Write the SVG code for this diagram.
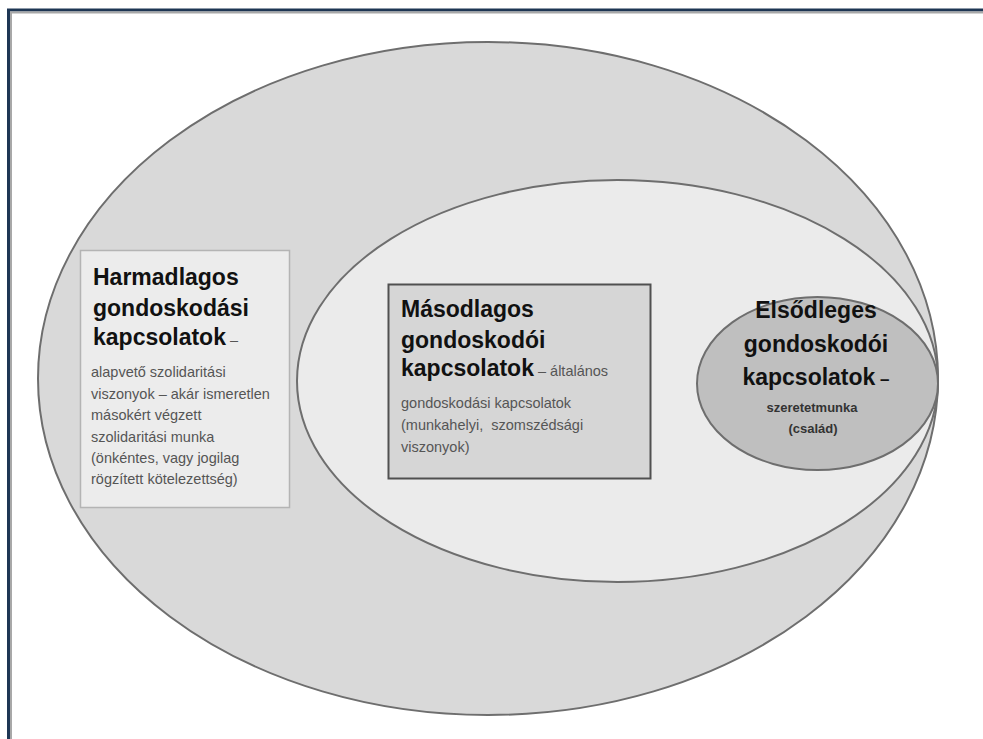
<svg xmlns="http://www.w3.org/2000/svg" width="983" height="739" viewBox="0 0 983 739">
<style>
.h{font-family:"Liberation Sans",Arial,sans-serif;font-weight:bold;font-size:23px;fill:#111}
.s{font-family:"Liberation Sans",Arial,sans-serif;font-size:14.5px;fill:#555}
.sb{font-family:"Liberation Sans",Arial,sans-serif;font-weight:bold;font-size:13px;fill:#333}
.ring{stroke:#6e6e6e;stroke-width:2}
</style>
<rect x="0" y="0" width="983" height="739" fill="#fff"/>
<g id="frame">
<path d="M8.5 739 V10 H983" fill="none" stroke="#1e3654" stroke-width="3"/>
<path d="M11 739 V12.5 H983" fill="none" stroke="#a8a8a8" stroke-width="2"/>
</g>
<g id="tertiary">
<ellipse class="ring" cx="488" cy="378.5" rx="450" ry="336.5" fill="#d9d9d9"/>
</g>
<g id="secondary">
<ellipse class="ring" cx="617.5" cy="381" rx="320.5" ry="201" fill="#ebebeb"/>
</g>
<g id="primary">
<ellipse class="ring" cx="817.5" cy="383.5" rx="120.5" ry="86.5" fill="#bfbfbf"/>
<text class="h" x="816" y="318" text-anchor="middle">Elsődleges</text>
<text class="h" x="816" y="352" text-anchor="middle">gondoskodói</text>
<text class="h" x="816" y="385" text-anchor="middle">kapcsolatok<tspan font-size="17"> –</tspan></text>
<text class="sb" x="812" y="412" text-anchor="middle">szeretetmunka</text>
<text class="sb" x="813" y="433" text-anchor="middle">(család)</text>
</g>
<g id="tertiary-box">
<rect x="80.5" y="250.5" width="209" height="257" fill="#ececec" stroke="#b4b4b4" stroke-width="1.5"/>
<text class="h" x="93" y="285">Harmadlagos</text>
<text class="h" x="93" y="316">gondoskodási</text>
<text class="h" x="93" y="345">kapcsolatok<tspan class="s" font-weight="normal" font-size="15"> –</tspan></text>
<text class="s" x="91" y="377">alapvető szolidaritási</text>
<text class="s" x="91" y="399">viszonyok – akár ismeretlen</text>
<text class="s" x="91" y="420">másokért végzett</text>
<text class="s" x="91" y="442">szolidaritási munka</text>
<text class="s" x="91" y="463">(önkéntes, vagy jogilag</text>
<text class="s" x="91" y="484">rögzített kötelezettség)</text>
</g>
<g id="secondary-box">
<rect x="388.5" y="284.5" width="262" height="194" fill="#d6d6d6" stroke="#505050" stroke-width="2"/>
<text class="h" x="401" y="317">Másodlagos</text>
<text class="h" x="401" y="348">gondoskodói</text>
<text class="h" x="401" y="376">kapcsolatok<tspan class="s" font-weight="normal" font-size="13.5"> – általános</tspan></text>
<text class="s" x="401" y="408">gondoskodási kapcsolatok</text>
<text class="s" x="401" y="430" xml:space="preserve">(munkahelyi,  szomszédsági</text>
<text class="s" x="401" y="452">viszonyok)</text>
</g>
</svg>
